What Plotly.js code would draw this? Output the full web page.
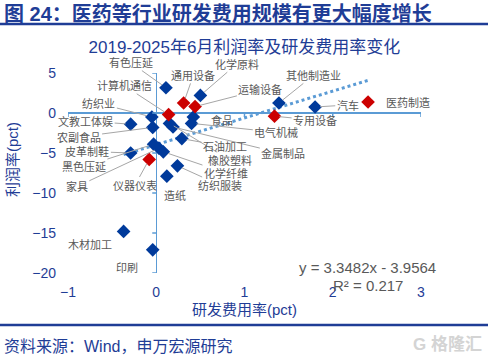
<!DOCTYPE html>
<html>
<head>
<meta charset="utf-8">
<script src="https://cdn.plot.ly/plotly-3.0.1.min.js"></script>
<style>html,body{margin:0;padding:0;background:#fff;}#chart{width:488px;height:356px;}</style>
</head>
<body>
<div id="chart"></div>
<script>
// ---- data ----
const industries = ['有色压延','化学原料','纺织业','食品','电气机械','文教工体娱','农副食品','橡胶塑料','金属制品','石油加工','皮革制鞋','黑色压延','家具','化学纤维','纺织服装','造纸','其他制造业','汽车','木材加工','印刷','计算机通信','通用设备','运输设备','专用设备','仪器仪表','医药制造'];
const rdRate     = [0.11, 0.50, -0.05, 0.42, 0.40, -0.29, -0.04, 0.15, 0.19, 0.29, -0.29, -0.03, 0.03, 0.08, 0.24, 0.12, 1.39, 1.80, -0.37, -0.04, 0.14, 0.31, 0.44, 1.34, -0.08, 2.40];
const profitRate = [3.16, 2.2, -0.5, -0.5, -1.3, -1.4, -1.8, -1.3, -1.75, -3.2, -5.0, -3.9, -4.4, -4.85, -6.6, -7.9, 1.25, 0.75, -14.8, -17.1, -0.2, 1.25, 0.8, -0.4, -5.8, 1.37];
const highlighted = [0,0,0,0,0,0,0,0,0,0,0,0,0,0,0,0,0,0,0,0,1,1,1,1,1,1];
const trendSlope = 3.3482, trendIntercept = -3.9564, trendR2 = 0.217;
const xTicks = [-1, 0, 1, 2, 3];
const yTicks = [-20, -15, -10, -5, 0, 5];

// ---- label placement (data units) [lx, ly, leader] ----
const labelPos = {
  '有色压延':[-0.29,6.3,1], '计算机通信':[-0.36,3.4,1], '化学原料':[0.91,6.1,1], '通用设备':[0.42,4.7,1],
  '运输设备':[1.18,2.9,1], '其他制造业':[1.78,4.7,1], '汽车':[2.17,1.0,1], '医药制造':[2.85,1.3,0],
  '专用设备':[1.80,-0.9,1], '食品':[0.74,-0.9,0], '电气机械':[1.36,-2.4,1], '金属制品':[1.44,-5.1,1],
  '石油加工':[0.78,-4.2,1], '橡胶塑料':[0.84,-5.9,1], '化学纤维':[0.79,-7.5,1], '纺织服装':[0.72,-9.0,1],
  '造纸':[0.21,-10.3,0], '仪器仪表':[-0.24,-9.0,1], '家具':[-0.90,-9.2,1], '黑色压延':[-0.82,-6.7,1],
  '皮革制鞋':[-0.78,-4.8,1], '农副食品':[-0.88,-3.0,1], '文教工体娱':[-0.80,-1.0,1], '纺织业':[-0.65,1.2,1],
  '木材加工':[-0.75,-16.4,0], '印刷':[-0.33,-19.4,0]
};

const FONT = 'Liberation Sans, Arial, Noto Sans CJK SC, sans-serif';
const BLUE = '#003a9b', RED = '#cc0000', DARK = '#1f3d96';

function pick(arr, flag){ return arr.filter((v,i)=>highlighted[i]===flag); }

const xMin = Math.min(...rdRate), xMax = Math.max(...rdRate);
const traces = [
  {x:[xMin,xMax], y:[xMin*trendSlope+trendIntercept, xMax*trendSlope+trendIntercept], mode:'lines',
   line:{color:'#5b9bd5', width:3, dash:'dot'}, hoverinfo:'skip', showlegend:false},
  {x:pick(rdRate,0), y:pick(profitRate,0), text:pick(industries,0), mode:'markers', type:'scatter',
   marker:{symbol:'diamond', size:10.5, color:BLUE}, showlegend:false},
  {x:pick(rdRate,1), y:pick(profitRate,1), text:pick(industries,1), mode:'markers', type:'scatter',
   marker:{symbol:'diamond', size:10.5, color:RED}, showlegend:false}
];

const annotations = [];
industries.forEach((name,i)=>{
  const p = labelPos[name];
  if (p[2]) {
    annotations.push({x:rdRate[i], y:profitRate[i], xref:'x', yref:'y', ax:p[0], ay:p[1], axref:'x', ayref:'y',
      text:name, showarrow:true, arrowhead:0, arrowwidth:1, arrowcolor:'#a6a6a6', standoff:5,
      font:{family:FONT, size:11, color:'#595959'}});
  } else {
    annotations.push({x:p[0], y:p[1], xref:'x', yref:'y', text:name, showarrow:false,
      font:{family:FONT, size:11, color:'#595959'}});
  }
});
// paper coordinate helpers (plot area: x 68..421 px, y 73..273 px)
const px = v => (v-68)/353, py = v => (273-v)/200;
annotations.push(
  {xref:'paper', yref:'paper', x:px(2), y:py(14), xanchor:'left', yanchor:'middle', showarrow:false,
   text:'<b>图 24：医药等行业研发费用规模有更大幅度增长</b>', font:{family:FONT, size:20, color:DARK}},
  {xref:'paper', yref:'paper', x:px(2), y:py(346), xanchor:'left', yanchor:'middle', showarrow:false,
   text:'资料来源：Wind，申万宏源研究', font:{family:FONT, size:16, color:DARK}},
  {xref:'paper', yref:'paper', x:px(448), y:py(344), xanchor:'center', yanchor:'middle', showarrow:false,
   text:'<b>G 格隆汇</b>', font:{family:FONT, size:17, color:'#d4d4d4'}},
  {xref:'paper', yref:'paper', x:0.5, y:py(309), xanchor:'center', yanchor:'middle', showarrow:false,
   text:'研发费用率(pct)', font:{family:FONT, size:15, color:DARK}},
  {xref:'paper', yref:'paper', x:px(12), y:py(160), xanchor:'center', yanchor:'middle', showarrow:false, textangle:-90,
   text:'利润率(pct)', font:{family:FONT, size:15, color:DARK}},
  {xref:'paper', yref:'paper', x:px(367), y:py(267), xanchor:'center', yanchor:'middle', showarrow:false,
   text:'y = '+trendSlope.toFixed(4)+'x - '+Math.abs(trendIntercept).toFixed(4), font:{family:FONT, size:15, color:'#595959'}},
  {xref:'paper', yref:'paper', x:px(368), y:py(285), xanchor:'center', yanchor:'middle', showarrow:false,
   text:'R² = '+trendR2, font:{family:FONT, size:15, color:'#595959'}}
);

const shapes = [
  {type:'line', xref:'paper', yref:'paper', x0:px(0), x1:px(488), y0:py(24), y1:py(24), line:{color:DARK, width:2.5}},
  {type:'line', xref:'paper', yref:'paper', x0:px(0), x1:px(488), y0:py(325), y1:py(325), line:{color:DARK, width:2.5}}
];
yTicks.forEach(v=>shapes.push({type:'line', xref:'x', yref:'y', xsizemode:'pixel', xanchor:0, x0:-4, x1:0, y0:v, y1:v,
  line:{color:'#5b9bd5', width:1.5}}));
xTicks.filter(v=>v!==0).forEach(v=>shapes.push({type:'line', xref:'x', yref:'y', ysizemode:'pixel', yanchor:0, y0:-4, y1:0, x0:v, x1:v,
  line:{color:'#5b9bd5', width:1.5}}));

const layout = {
  width:488, height:356,
  margin:{l:68, r:67, t:73, b:83},
  paper_bgcolor:'#fff', plot_bgcolor:'#fff',
  font:{family:FONT},
  title:{text:'2019-2025年6月利润率及研发费用率变化', x:0.5, xref:'paper', xanchor:'center',
    y:1-47/356, yref:'container', yanchor:'middle', font:{family:FONT, size:17, color:DARK}},
  xaxis:{range:[-1,3], tickvals:xTicks, showgrid:false, zeroline:true, zerolinecolor:'#5b9bd5', zerolinewidth:1.5,
    showline:false, ticks:'', ticklabelstandoff:9, tickfont:{family:FONT, size:14, color:DARK}},
  yaxis:{range:[-20,5], tickvals:yTicks, showgrid:false, zeroline:true, zerolinecolor:'#5b9bd5', zerolinewidth:1.5,
    showline:false, ticks:'', ticklabelstandoff:11, tickfont:{family:FONT, size:14, color:DARK}},
  annotations:annotations, shapes:shapes, showlegend:false
};
Plotly.newPlot('chart', traces, layout, {staticPlot:true, displayModeBar:false});
</script>
</body>
</html>
